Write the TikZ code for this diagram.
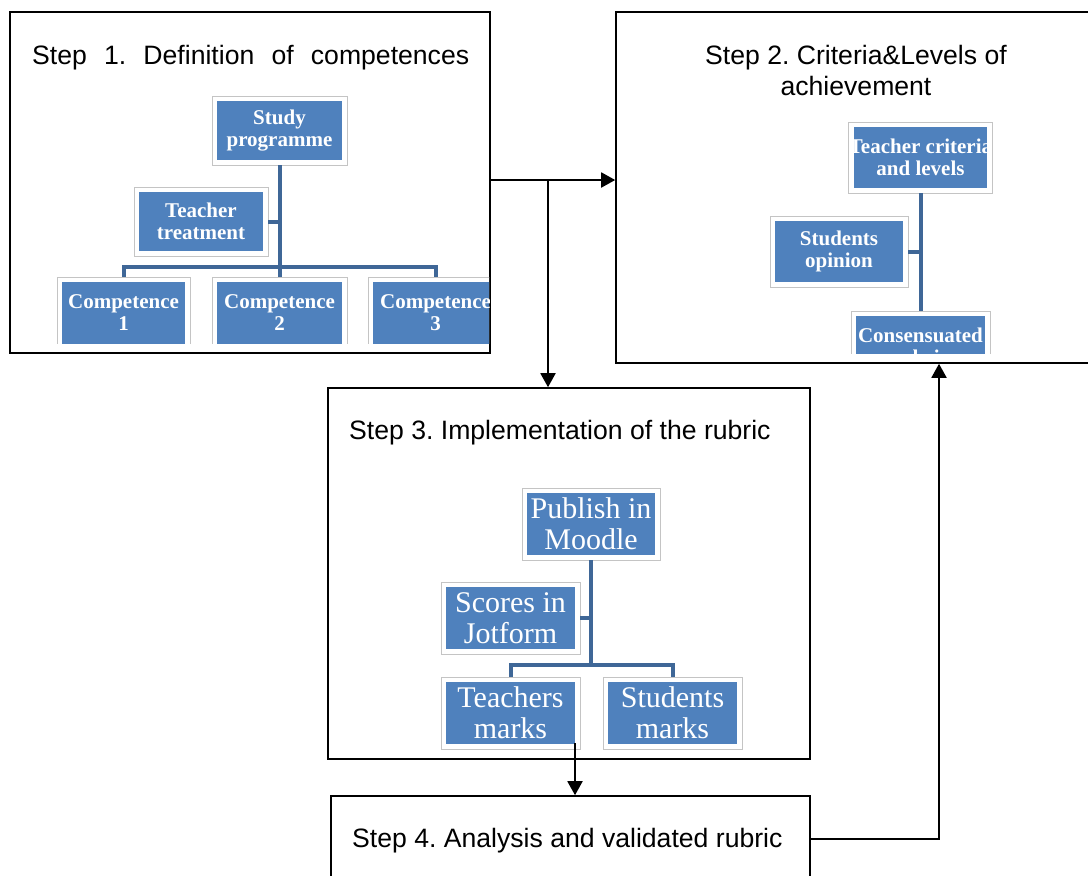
\documentclass[tikz,border=0pt]{standalone}
\usepackage{fontspec}
\setmainfont{Liberation Sans}
\newfontfamily\boxserif{Liberation Serif}
\usetikzlibrary{arrows.meta}
\definecolor{smblue}{HTML}{4F81BD}
\definecolor{smline}{HTML}{3F6797}
\definecolor{smframe}{HTML}{C4C4C4}
\frenchspacing
\tikzset{
  x=1pt, y=-1pt,
  stepbox/.style={rectangle, draw=black, line width=1.6pt, fill=white, inner sep=0pt},
  orgbox/.style={rectangle, draw=smframe, line width=0.8pt, fill=white, inner sep=0pt,
    text=white, align=center,
    path picture={\fill[smblue] ([shift={(5pt,5pt)}]path picture bounding box.south west)
      rectangle ([shift={(-5pt,-5pt)}]path picture bounding box.north east);}},
  smallorg/.style={orgbox, font=\boxserif\bfseries\fontsize{21}{22}\selectfont,
    minimum width=135pt, minimum height=69pt},
  bigorg/.style={orgbox, font=\boxserif\fontsize{30}{31}\selectfont,
    minimum width=139pt, minimum height=72pt},
  orgline/.style={draw=smline, line width=4pt},
  arr/.style={draw=black, line width=1.9pt, -{Triangle[width=15pt,length=14pt]}},
  title/.style={font=\fontsize{26.6}{31}\selectfont, inner sep=0pt},
}
\begin{document}
\begin{tikzpicture}
\useasboundingbox (0,0) rectangle (1088,876);
\clip (0,0) rectangle (1088,876);

% step boxes
\node[stepbox, minimum width=480pt, minimum height=341pt] (s1) at (250,182.5) {};
\node[stepbox, minimum width=484pt, minimum height=351pt] (s2) at (858,187.5) {};
\node[stepbox, minimum width=482pt, minimum height=371pt] (s3) at (569,573.5) {};
\node[stepbox, minimum width=479pt, minimum height=104pt] (s4) at (570.5,848) {};

% chart 1
\begin{scope}
  \clip (11,13) rectangle (489,343);
  \node[smallorg] (sp) at (279.5,130.5) {Study\\programme};
  \node[smallorg, minimum width=134pt] (tt) at (201,221.5) {Teacher\\treatment};
  \node[smallorg, minimum width=133pt, minimum height=72pt] (c1) at (123.5,313) {Competence\\1};
  \node[smallorg, minimum height=72pt] (c2) at (279.5,313) {Competence\\2};
  \node[smallorg, minimum height=72pt] (c3) at (435.5,313) {Competence\\3};
  \coordinate (bar1) at (279.5,267);
  \draw[orgline] (sp.south) -- (c2.north);
  \draw[orgline] (c1.north) |- (bar1) -| (c3.north);
  \draw[orgline] (tt.east) -- (tt.east -| sp.south);
\end{scope}

% chart 2
\begin{scope}
  \clip (617,13) rectangle (1087,353);
  \node[smallorg, minimum width=139pt, minimum height=71pt] (tc) at (920.5,157.5) {Teacher criteria\\and levels};
  \node[smallorg, minimum width=138pt, minimum height=71pt] (so) at (839,251.5) {Students\\opinion};
  \node[smallorg, minimum width=139pt, minimum height=71pt] (cr) at (920.5,346.5) {Consensuated\\rubric};
  \draw[orgline] (tc.south) -- (cr.north);
  \draw[orgline] (so.east) -- (so.east -| tc.south);
\end{scope}

% chart 3
\node[bigorg, minimum width=138pt] (pm) at (591,524) {Publish in\\Moodle};
\node[bigorg] (sj) at (510.5,618) {Scores in\\Jotform};
\node[bigorg] (tm) at (510.5,713) {Teachers\\marks};
\node[bigorg] (sm) at (672.5,713) {Students\\marks};
\coordinate (bar3) at (591,665);
\draw[orgline] (pm.south) -- (bar3);
\draw[orgline] (tm.north) |- (bar3) -| (sm.north);
\draw[orgline] (sj.east) -- (sj.east -| pm.south);

% titles
\node[title, anchor=base west] (t1) at (32,64) {\makebox[437pt][s]{Step 1. Definition of competences}};
\node[title, anchor=base] (t2a) at (856,64) {Step 2. Criteria\&Levels of};
\node[title, anchor=base] (t2b) at (856,95) {achievement};
\node[title, anchor=base west] (t3) at (349,439) {Step 3. Implementation of the rubric};
\node[title, anchor=base west] (t4) at (352,847) {Step 4. Analysis and validated rubric};

% connectors
\coordinate (j) at (548,180);
\coordinate (m) at (575,743);
\draw[arr] ([yshift=2.5pt]s1.east) -- ([yshift=7.5pt]s2.west);
\draw[arr] (j) -- (j |- s3.north);
\draw[arr] (m) -- (m |- s4.north);
\coordinate (k) at (939,839);
\draw[arr] ([yshift=9pt]s4.east) -- (k) -- (k |- s2.south);
\end{tikzpicture}
\end{document}
